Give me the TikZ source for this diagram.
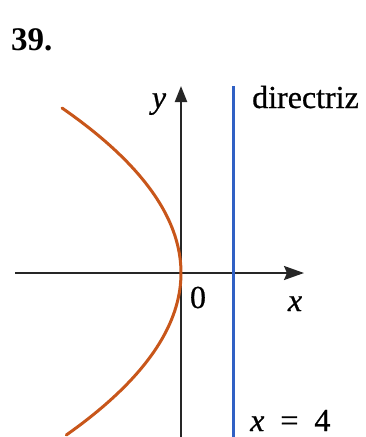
\documentclass[tikz,border=0pt]{standalone}
\usepackage{fontspec}
\setmainfont{Liberation Serif}
\newfontfamily\lblfont{Liberation Serif}[FakeBold=0.7]
\usetikzlibrary{arrows.meta}
\definecolor{parab}{RGB}{200,86,26}
\definecolor{dirblue}{RGB}{48,96,196}
\begin{document}
\begin{tikzpicture}[x=1pt,y=-1pt,
  axis/.style={line width=2.2pt,black!85},
  lbl/.style={font=\lblfont\fontsize{32}{34}\selectfont,inner sep=0pt},
  curve/.style={line width=3pt,parab},
  dline/.style={line width=3pt,dirblue}]
\useasboundingbox (0,0) rectangle (366,437);
% axes
\coordinate (o) at (181,273);
\coordinate (xl) at (15,273);
\coordinate (xr) at (304,273);
\coordinate (yb) at (181,437);
\coordinate (yt) at (181,86);
\draw[axis,-{Stealth[length=20pt,width=14pt,inset=3pt]}] (xl) -- (xr);
\draw[axis,-{Triangle[length=16pt,width=12pt]}] (yb) -- (yt);
% directrix
\coordinate (dt) at (233,86);
\coordinate (db) at (233,437);
\draw[dline] (dt) -- (db);
% parabola
\draw[curve,line cap=round] plot[domain=-165:162,samples=80,variable=\t]
  ({181-0.437*(\t/10)*(\t/10)},{273+\t});
% labels
\node[inner sep=0pt,font=\bfseries\fontsize{33}{35}\selectfont,anchor=base west] (num) at (11,50) {39.};
\node[lbl,anchor=base] (ylab) at (159,108) {\itshape y};
\node[lbl,anchor=base west] (dir) at (252,108) {directriz};
\node[lbl,anchor=base] (zero) at (198,308) {0};
\node[lbl,anchor=base] (xlab) at (295,311) {\itshape x};
\node[lbl,anchor=base west] (eq) at (250,431) {\itshape x\upshape\ \ =\ \ 4};
\end{tikzpicture}
\end{document}
